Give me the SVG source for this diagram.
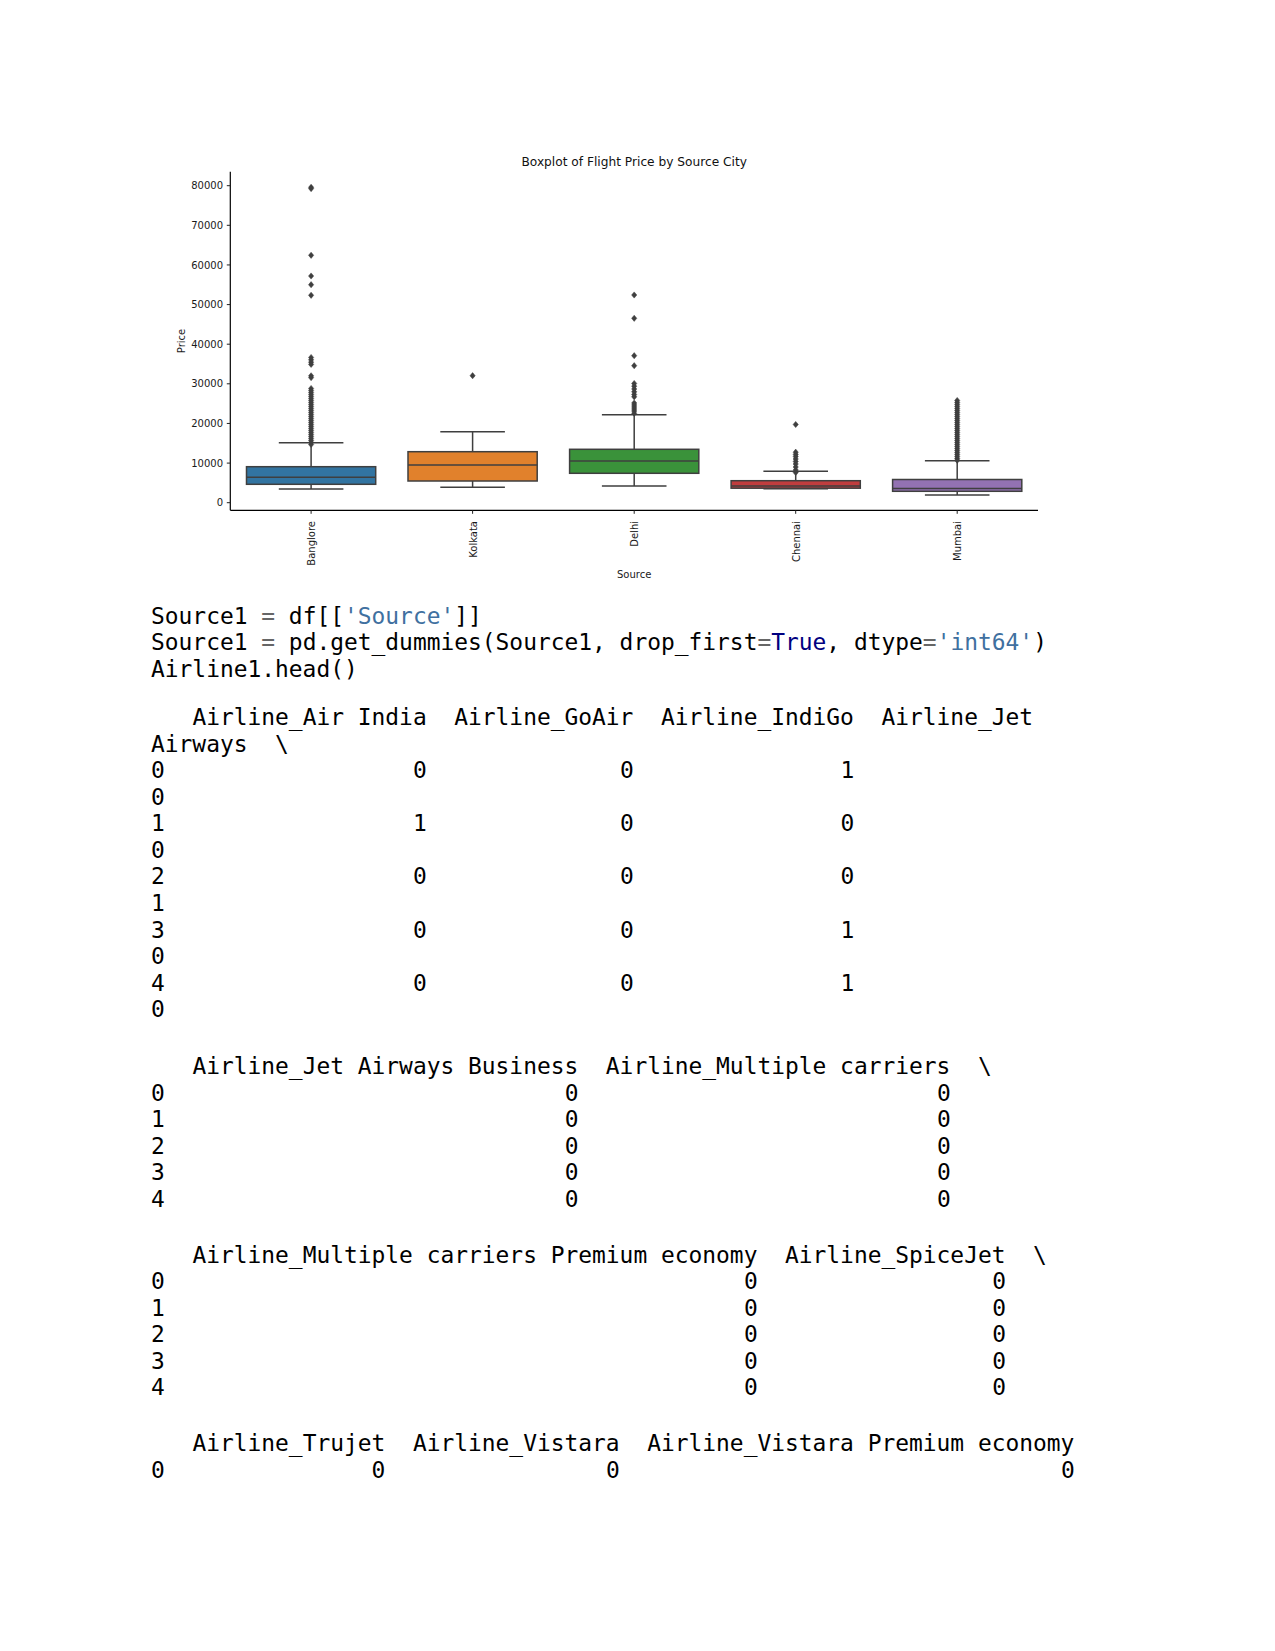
<svg xmlns="http://www.w3.org/2000/svg" xmlns:xlink="http://www.w3.org/1999/xlink" width="1275" height="1651" viewBox="0 0 1275 1651">
<style>
.tick{font-family:"DejaVu Sans","Liberation Sans",sans-serif;font-size:10px;fill:#1a1a1a}
.title{font-family:"DejaVu Sans","Liberation Sans",sans-serif;font-size:12.2px;fill:#111}
.lab{font-family:"DejaVu Sans","Liberation Sans",sans-serif;font-size:10px;fill:#1a1a1a}
.box{stroke:#3f3f3f;stroke-width:1.5}
.ln{stroke:#3f3f3f;stroke-width:1.5;fill:none}
.spine{stroke:#000;stroke-width:1.2;fill:none}
.tk{stroke:#222;stroke-width:1}
.mono{font-family:"DejaVu Sans Mono","Liberation Mono",monospace;font-size:22.9px;fill:#000;white-space:pre}
.op{fill:#666666}
.str{fill:#4070a0}
.kw{fill:#000080}
</style>
<defs>
<path id="d" d="M0,-3.1 L2.6,0 L0,3.1 L-2.6,0Z" fill="#3f3f3f" stroke="#3f3f3f" stroke-width="0.5"/>
</defs>
<rect width="1275" height="1651" fill="#fff"/>
<g id="chart">
<text class="title" x="634.2" y="165.5" text-anchor="middle">Boxplot of Flight Price by Source City</text>
<g id="yaxis">
<path class="spine" d="M230.3,171.7 V510.3"/>
<path class="tk" d="M226.8,502.7H230.3M226.8,463.1H230.3M226.8,423.45H230.3M226.8,383.8H230.3M226.8,344.2H230.3M226.8,304.6H230.3M226.8,264.95H230.3M226.8,225.3H230.3M226.8,185.7H230.3"/>
<text class="tick" text-anchor="end" x="223" y="506.3">0</text>
<text class="tick" text-anchor="end" x="223" y="466.7">10000</text>
<text class="tick" text-anchor="end" x="223" y="427.1">20000</text>
<text class="tick" text-anchor="end" x="223" y="387.4">30000</text>
<text class="tick" text-anchor="end" x="223" y="347.8">40000</text>
<text class="tick" text-anchor="end" x="223" y="308.2">50000</text>
<text class="tick" text-anchor="end" x="223" y="268.6">60000</text>
<text class="tick" text-anchor="end" x="223" y="228.9">70000</text>
<text class="tick" text-anchor="end" x="223" y="189.3">80000</text>
<text class="lab" transform="translate(184.8,341) rotate(-90)" text-anchor="middle">Price</text>
</g>
<g id="xaxis">
<path class="spine" d="M230.3,510.3 H1038"/>
<path class="tk" d="M311.1,510.3V513.8M472.6,510.3V513.8M634.2,510.3V513.8M795.7,510.3V513.8M957.2,510.3V513.8"/>
<text class="tick" text-anchor="end" transform="translate(315.1,521) rotate(-90)">Banglore</text>
<text class="tick" text-anchor="end" transform="translate(476.6,521) rotate(-90)">Kolkata</text>
<text class="tick" text-anchor="end" transform="translate(638.2,521) rotate(-90)">Delhi</text>
<text class="tick" text-anchor="end" transform="translate(799.7,521) rotate(-90)">Chennai</text>
<text class="tick" text-anchor="end" transform="translate(961.2,521) rotate(-90)">Mumbai</text>
<text class="lab" x="634.2" y="578" text-anchor="middle">Source</text>
</g>
<g id="box-banglore">
<path class="ln" d="M311.1,466.7V442.7M278.8,442.7H343.4M311.1,484.3V489M278.8,489H343.4"/>
<rect class="box" x="246.5" y="466.7" width="129.2" height="17.6" fill="#3274a1"/>
<path class="ln" d="M246.5,477.3H375.7"/>
<g>
<use xlink:href="#d" x="311.1" y="187.3"/><use xlink:href="#d" x="311.1" y="188.6"/>
<use xlink:href="#d" x="311.1" y="255.3"/><use xlink:href="#d" x="311.1" y="276"/>
<use xlink:href="#d" x="311.1" y="284.7"/><use xlink:href="#d" x="311.1" y="295.3"/>
<use xlink:href="#d" x="311.1" y="357.5"/><use xlink:href="#d" x="311.1" y="359.8"/>
<use xlink:href="#d" x="311.1" y="362.2"/><use xlink:href="#d" x="311.1" y="364.4"/>
<use xlink:href="#d" x="311.1" y="375.8"/><use xlink:href="#d" x="311.1" y="377.6"/>
<use xlink:href="#d" x="311.1" y="388.5"/><use xlink:href="#d" x="311.1" y="390.5"/>
<use xlink:href="#d" x="311.1" y="392.5"/><use xlink:href="#d" x="311.1" y="394.5"/>
<use xlink:href="#d" x="311.1" y="396.5"/><use xlink:href="#d" x="311.1" y="398.5"/>
<use xlink:href="#d" x="311.1" y="400.5"/><use xlink:href="#d" x="311.1" y="402.5"/>
<use xlink:href="#d" x="311.1" y="404.5"/><use xlink:href="#d" x="311.1" y="406.5"/>
<use xlink:href="#d" x="311.1" y="408.5"/><use xlink:href="#d" x="311.1" y="410.5"/>
<use xlink:href="#d" x="311.1" y="412.5"/><use xlink:href="#d" x="311.1" y="414.5"/>
<use xlink:href="#d" x="311.1" y="416.5"/><use xlink:href="#d" x="311.1" y="418.5"/>
<use xlink:href="#d" x="311.1" y="420.5"/><use xlink:href="#d" x="311.1" y="422.5"/>
<use xlink:href="#d" x="311.1" y="424.5"/><use xlink:href="#d" x="311.1" y="426.5"/>
<use xlink:href="#d" x="311.1" y="428.5"/><use xlink:href="#d" x="311.1" y="430.5"/>
<use xlink:href="#d" x="311.1" y="432.5"/><use xlink:href="#d" x="311.1" y="434.5"/>
<use xlink:href="#d" x="311.1" y="436.5"/><use xlink:href="#d" x="311.1" y="438.5"/>
<use xlink:href="#d" x="311.1" y="440.5"/><use xlink:href="#d" x="311.1" y="442.5"/>
<use xlink:href="#d" x="311.1" y="444.5"/>
</g>
</g>
<g id="box-kolkata">
<path class="ln" d="M472.6,451.7V431.7M440.3,431.7H504.9M472.6,481V487.3M440.3,487.3H504.9"/>
<rect class="box" x="408" y="451.7" width="129.2" height="29.3" fill="#e1812c"/>
<path class="ln" d="M408,465H537.2"/>
<use xlink:href="#d" x="472.6" y="375.7"/>
</g>
<g id="box-delhi">
<path class="ln" d="M634.2,449.3V414.7M601.9,414.7H666.5M634.2,473.3V486M601.9,486H666.5"/>
<rect class="box" x="569.6" y="449.3" width="129.2" height="24" fill="#3a923a"/>
<path class="ln" d="M569.6,461H698.8"/>
<g>
<use xlink:href="#d" x="634.2" y="295"/><use xlink:href="#d" x="634.2" y="318.3"/>
<use xlink:href="#d" x="634.2" y="355.7"/><use xlink:href="#d" x="634.2" y="365.7"/>
<use xlink:href="#d" x="634.2" y="383.5"/><use xlink:href="#d" x="634.2" y="386.2"/>
<use xlink:href="#d" x="634.2" y="389"/><use xlink:href="#d" x="634.2" y="391.8"/>
<use xlink:href="#d" x="634.2" y="394.5"/><use xlink:href="#d" x="634.2" y="396.8"/>
<use xlink:href="#d" x="634.2" y="403"/><use xlink:href="#d" x="634.2" y="405"/>
<use xlink:href="#d" x="634.2" y="407"/><use xlink:href="#d" x="634.2" y="409"/>
<use xlink:href="#d" x="634.2" y="411"/><use xlink:href="#d" x="634.2" y="413.3"/>
</g>
</g>
<g id="box-chennai">
<path class="ln" d="M795.7,480.7V471.3M763.4,471.3H828M763.4,488.8H828"/>
<rect class="box" x="731.1" y="480.7" width="129.2" height="7.5" fill="#c03d3e"/>
<path class="ln" d="M731.1,486H860.3"/>
<g>
<use xlink:href="#d" x="795.7" y="424.5"/><use xlink:href="#d" x="795.7" y="452.2"/>
<use xlink:href="#d" x="795.7" y="454.4"/><use xlink:href="#d" x="795.7" y="456.6"/>
<use xlink:href="#d" x="795.7" y="459"/><use xlink:href="#d" x="795.7" y="461.5"/>
<use xlink:href="#d" x="795.7" y="464"/><use xlink:href="#d" x="795.7" y="467"/>
<use xlink:href="#d" x="795.7" y="470"/><use xlink:href="#d" x="795.7" y="472.5"/>
</g>
</g>
<g id="box-mumbai">
<path class="ln" d="M957.2,479.5V460.8M924.9,460.8H989.5M957.2,491.3V495M924.9,495H989.5"/>
<rect class="box" x="892.6" y="479.5" width="129.2" height="11.8" fill="#9372b2"/>
<path class="ln" d="M892.6,488.5H1021.8"/>
<g>
<use xlink:href="#d" x="957.2" y="400.5"/><use xlink:href="#d" x="957.2" y="402.5"/>
<use xlink:href="#d" x="957.2" y="404.5"/><use xlink:href="#d" x="957.2" y="406.5"/>
<use xlink:href="#d" x="957.2" y="408.5"/><use xlink:href="#d" x="957.2" y="410.5"/>
<use xlink:href="#d" x="957.2" y="412.5"/><use xlink:href="#d" x="957.2" y="414.5"/>
<use xlink:href="#d" x="957.2" y="416.5"/><use xlink:href="#d" x="957.2" y="418.5"/>
<use xlink:href="#d" x="957.2" y="420.5"/><use xlink:href="#d" x="957.2" y="422.5"/>
<use xlink:href="#d" x="957.2" y="424.5"/><use xlink:href="#d" x="957.2" y="426.5"/>
<use xlink:href="#d" x="957.2" y="428.5"/><use xlink:href="#d" x="957.2" y="430.5"/>
<use xlink:href="#d" x="957.2" y="432.5"/><use xlink:href="#d" x="957.2" y="434.5"/>
<use xlink:href="#d" x="957.2" y="436.5"/><use xlink:href="#d" x="957.2" y="438.5"/>
<use xlink:href="#d" x="957.2" y="440.5"/><use xlink:href="#d" x="957.2" y="442.5"/>
<use xlink:href="#d" x="957.2" y="444.5"/><use xlink:href="#d" x="957.2" y="446.5"/>
<use xlink:href="#d" x="957.2" y="448.5"/><use xlink:href="#d" x="957.2" y="450.5"/>
<use xlink:href="#d" x="957.2" y="452.5"/><use xlink:href="#d" x="957.2" y="454.5"/>
<use xlink:href="#d" x="957.2" y="456.5"/><use xlink:href="#d" x="957.2" y="458.5"/>
<use xlink:href="#d" x="957.2" y="460.3"/>
</g>
</g>
</g>
<g id="code">
<text class="mono" x="151" y="623.5" xml:space="preserve">Source1 <tspan class="op">=</tspan> df[[<tspan class="str">'Source'</tspan>]]</text>
<text class="mono" x="151" y="650" xml:space="preserve">Source1 <tspan class="op">=</tspan> pd.get_dummies(Source1, drop_first<tspan class="op">=</tspan><tspan class="kw">True</tspan>, dtype<tspan class="op">=</tspan><tspan class="str">'int64'</tspan>)</text>
<text class="mono" x="151" y="676.5">Airline1.head()</text>
</g>
<g id="output">
<text class="mono" x="192.4" y="725" xml:space="preserve">Airline_Air India  Airline_GoAir  Airline_IndiGo  Airline_Jet</text>
<text class="mono" x="151" y="751.6" xml:space="preserve">Airways  \</text>
<text class="mono" y="778.1"><tspan x="151">0</tspan><tspan x="413">0</tspan><tspan x="619.9">0</tspan><tspan x="840.5">1</tspan></text>
<text class="mono" x="151" y="804.7">0</text>
<text class="mono" y="831.3"><tspan x="151">1</tspan><tspan x="413">1</tspan><tspan x="619.9">0</tspan><tspan x="840.5">0</tspan></text>
<text class="mono" x="151" y="857.8">0</text>
<text class="mono" y="884.4"><tspan x="151">2</tspan><tspan x="413">0</tspan><tspan x="619.9">0</tspan><tspan x="840.5">0</tspan></text>
<text class="mono" x="151" y="911">1</text>
<text class="mono" y="937.6"><tspan x="151">3</tspan><tspan x="413">0</tspan><tspan x="619.9">0</tspan><tspan x="840.5">1</tspan></text>
<text class="mono" x="151" y="964.1">0</text>
<text class="mono" y="990.7"><tspan x="151">4</tspan><tspan x="413">0</tspan><tspan x="619.9">0</tspan><tspan x="840.5">1</tspan></text>
<text class="mono" x="151" y="1017.3">0</text>

<text class="mono" x="192.4" y="1074" xml:space="preserve">Airline_Jet Airways Business  Airline_Multiple carriers  \</text>
<text class="mono" y="1100.6"><tspan x="151">0</tspan><tspan x="564.7">0</tspan><tspan x="937">0</tspan></text>
<text class="mono" y="1127.1"><tspan x="151">1</tspan><tspan x="564.7">0</tspan><tspan x="937">0</tspan></text>
<text class="mono" y="1153.7"><tspan x="151">2</tspan><tspan x="564.7">0</tspan><tspan x="937">0</tspan></text>
<text class="mono" y="1180.3"><tspan x="151">3</tspan><tspan x="564.7">0</tspan><tspan x="937">0</tspan></text>
<text class="mono" y="1206.8"><tspan x="151">4</tspan><tspan x="564.7">0</tspan><tspan x="937">0</tspan></text>

<text class="mono" x="192.4" y="1262.5" xml:space="preserve">Airline_Multiple carriers Premium economy  Airline_SpiceJet  \</text>
<text class="mono" y="1289.1"><tspan x="151">0</tspan><tspan x="744">0</tspan><tspan x="992.2">0</tspan></text>
<text class="mono" y="1315.6"><tspan x="151">1</tspan><tspan x="744">0</tspan><tspan x="992.2">0</tspan></text>
<text class="mono" y="1342.2"><tspan x="151">2</tspan><tspan x="744">0</tspan><tspan x="992.2">0</tspan></text>
<text class="mono" y="1368.8"><tspan x="151">3</tspan><tspan x="744">0</tspan><tspan x="992.2">0</tspan></text>
<text class="mono" y="1395.3"><tspan x="151">4</tspan><tspan x="744">0</tspan><tspan x="992.2">0</tspan></text>

<text class="mono" x="192.4" y="1451" xml:space="preserve">Airline_Trujet  Airline_Vistara  Airline_Vistara Premium economy</text>
<text class="mono" y="1477.6"><tspan x="151">0</tspan><tspan x="371.6">0</tspan><tspan x="606.1">0</tspan><tspan x="1061.1">0</tspan></text>
</g>
</svg>
